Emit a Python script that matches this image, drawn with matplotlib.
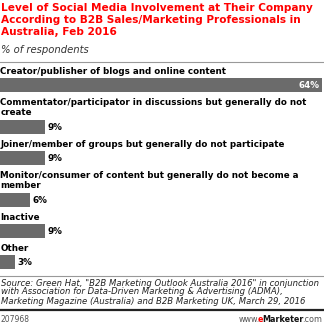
import matplotlib
matplotlib.use("Agg")
import matplotlib.pyplot as plt

# Datos
categorias = [
    "Creator/publisher of blogs and online content",
    "Commentator/participator in discussions but generally do not\ncreate",
    "Joiner/member of groups but generally do not participate",
    "Monitor/consumer of content but generally do not become a\nmember",
    "Inactive",
    "Other",
]
valores = [64, 9, 9, 6, 9, 3]

titulo = ("Level of Social Media Involvement at Their Company\n"
          "According to B2B Sales/Marketing Professionals in\n"
          "Australia, Feb 2016")
subtitulo = "% of respondents"
fonte = ('Source: Green Hat, "B2B Marketing Outlook Australia 2016" in conjunction\n'
         'with Association for Data-Driven Marketing & Advertising (ADMA),\n'
         'Marketing Magazine (Australia) and B2B Marketing UK, March 29, 2016')
codigo = "207968"

W, H = 324, 326
fig = plt.figure(figsize=(W / 100, H / 100), dpi=100)
fig.patch.set_facecolor("white")

# eixo cobrindo a figura toda: x em %, y em pixels (de cima para baixo)
ax = fig.add_axes([0, 0, 1, 1])
ax.set_xlim(0, max(valores) * W / 322)
ax.set_ylim(H, 0)
ax.axis("off")

cinza = "#6b6b6b"
texto = "#000000"

# Titulo e subtitulo
ax.text(0.1, 3, titulo, color="#ff0000", fontsize=7.6, fontweight="bold",
        va="top", ha="left", linespacing=1.22, family="DejaVu Sans")
ax.text(0.1, 45, subtitulo, color="#333333", fontsize=7.2, style="italic",
        va="top", ha="left", family="DejaVu Sans")
ax.axhline(62, color="#999999", lw=0.8)

# Barras
topo = 67
for cat, v in zip(categorias, valores):
    n = cat.count("\n") + 1
    ax.text(0.05, topo, cat, fontsize=6.3, fontweight="bold", color=texto,
            va="top", ha="left", linespacing=1.15, family="DejaVu Sans")
    y0 = topo + 11 * n
    ax.barh(y0 + 7, v, height=14, color=cinza, align="center")
    if v == max(valores):
        ax.text(v - 0.5, y0 + 7.5, f"{v}%", color="white", fontsize=6.3,
                fontweight="bold", va="center", ha="right")
    else:
        ax.text(v + 0.5, y0 + 7.5, f"{v}%", color=texto, fontsize=6.3,
                fontweight="bold", va="center", ha="left")
    topo = y0 + 20

# Rodape
ax.axhline(276, color="#999999", lw=0.8)
ax.text(0.1, 278.5, fonte, fontsize=6.1, style="italic", color="#222222",
        va="top", ha="left", linespacing=1.0)
ax.axhline(309.5, color="#222222", lw=1.6)
ax.text(0.1, 319, codigo, fontsize=5.5, color="#555555", va="center", ha="left")

# logo www.eMarketer.com, montado da direita para a esquerda
fig.canvas.draw()
r = fig.canvas.get_renderer()
partes = [(".com", "normal", "#555555"), ("Marketer", "bold", "#111111"),
          ("e", "bold", "#ff0000"), ("www.", "normal", "#555555")]
x = W - 2
yl = 1 - 319 / H
for s, peso, cor in partes:
    t = fig.text(x / W, yl, s, fontsize=5.8, fontweight=peso, color=cor,
                 va="center", ha="right")
    x -= t.get_window_extent(renderer=r).width - 1.5

plt.savefig("out.png", dpi=100)
